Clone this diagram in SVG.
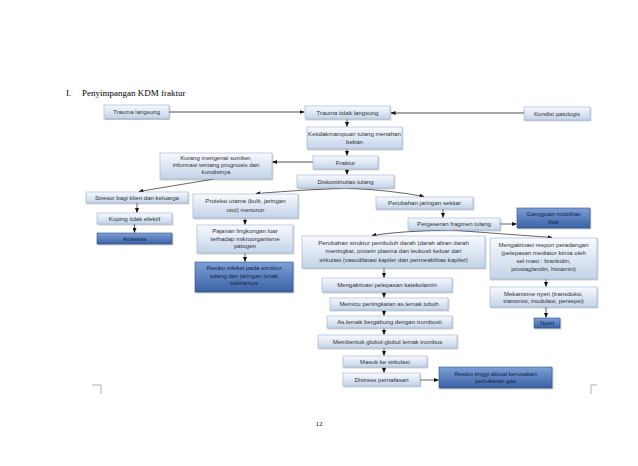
<svg xmlns="http://www.w3.org/2000/svg" width="638" height="466" viewBox="0 0 638 466">
<defs>
<linearGradient id="gl" x1="0" y1="0" x2="0" y2="1">
<stop offset="0" stop-color="#f8fafd"/>
<stop offset="1" stop-color="#c3d3e9"/>
</linearGradient>
<linearGradient id="gd" x1="0" y1="0" x2="0" y2="1">
<stop offset="0" stop-color="#7c9fd7"/>
<stop offset="1" stop-color="#3a62a6"/>
</linearGradient>
<filter id="sh" x="-10%" y="-20%" width="130%" height="160%">
<feDropShadow dx="0.8" dy="1" stdDeviation="0.6" flood-color="#000" flood-opacity="0.3"/>
</filter>
<marker id="ar" markerWidth="5" markerHeight="4" refX="4.5" refY="2" orient="auto" markerUnits="userSpaceOnUse">
<path d="M0 0 L5 2 L0 4 Z" fill="#111"/>
</marker>
<style>
.b{fill:url(#gl);stroke:#9db1cf;stroke-width:0.6;filter:url(#sh)}
.d{fill:url(#gd);stroke:#2f5088;stroke-width:0.6;filter:url(#sh)}
.t{font-family:"Liberation Sans",Arial,sans-serif;font-size:6.1px;fill:#333;text-anchor:middle}
.td{font-family:"Liberation Sans",Arial,sans-serif;font-size:6.1px;fill:#15233f;text-anchor:middle}
.c{fill:none;stroke:#222;stroke-width:0.7;marker-end:url(#ar)}
.g{fill:none;stroke:#8a8a8a;stroke-width:1.3;marker-end:url(#ar)}
.pg{font-family:"Liberation Serif","Times New Roman",serif;fill:#000}
</style>
</defs>
<rect width="638" height="466" fill="#fff"/>
<text class="pg" x="66" y="96" font-size="9">I.</text>
<text class="pg" x="82" y="96" font-size="9">Penyimpangan KDM fraktur</text>

<g id="connectors">
<path class="g" d="M169 112 H304"/>
<path class="g" d="M524 113 H391"/>
<path class="c" d="M347 119 V126.5"/>
<path class="c" d="M347 149 V155.5"/>
<path class="g" d="M313 162 H272.5"/>
<path class="c" d="M347 169 V174.5"/>
<path class="c" d="M214 179 L139 191.5"/>
<path class="c" d="M345 188 Q300 190 256 193.5"/>
<path class="c" d="M345 188 Q390 190 424 196.5"/>
<path class="c" d="M137 203 V212.5"/>
<path class="c" d="M134.5 224 V232.5"/>
<path class="c" d="M245 218 V224.5"/>
<path class="c" d="M245 253 V261.5"/>
<path class="c" d="M443 209 V217.5"/>
<path class="c" d="M500 224 H516.5"/>
<path class="c" d="M450 230 Q400 231 372 235.5"/>
<path class="c" d="M450 230 L552 237.5"/>
<path class="c" d="M384 268 V277.5"/>
<path class="c" d="M384 292 V297.5"/>
<path class="c" d="M384 310 V315.5"/>
<path class="c" d="M384 328 V334.5"/>
<path class="c" d="M384 348 V355.5"/>
<path class="c" d="M384 367 V372.5"/>
<path class="c" d="M420 380 H438.5"/>
<path class="c" d="M546 279 V286.5"/>
<path class="c" d="M546 307 V317.5"/>
</g>

<g id="n1"><rect class="b" x="104" y="105" width="65" height="13.5"/><text class="t" x="136.5" y="113.8">Trauma langsung</text></g>
<g id="n2"><rect class="b" x="305" y="106" width="85" height="13"/><text class="t" x="347.5" y="114.7">Trauma tidak langsung</text></g>
<g id="n3"><rect class="b" x="524" y="107" width="66" height="13"/><text class="t" x="557" y="115.7">Kondisi patologis</text></g>
<g id="n4"><rect class="b" x="307" y="127" width="95" height="22"/><text class="t" x="354.5" y="135.5">Ketidakmampuan tulang menahan</text><text class="t" x="354.5" y="144">beban</text></g>
<g id="n5"><rect class="b" x="160" y="153" width="112" height="26"/><text class="t" x="216" y="160">Kurang mengenal sumber,</text><text class="t" x="216" y="167">informasi tentang prognosis dan</text><text class="t" x="216" y="174">kondisinya</text></g>
<g id="n6"><rect class="b" x="313" y="156" width="65" height="13"/><text class="t" x="345.5" y="164.7">Fraktur</text></g>
<g id="n7"><rect class="b" x="297" y="175" width="97" height="13"/><text class="t" x="345.5" y="183.7">Diskontinuitas  tulang</text></g>
<g id="n8"><rect class="b" x="86" y="192" width="102" height="11"/><text class="t" x="137" y="199.6">Stresor bagi klien dan keluarga</text></g>
<g id="n9"><rect class="b" x="97" y="213" width="75" height="11"/><text class="t" x="134.5" y="220.6">Koping tidak  efektif</text></g>
<g id="n10"><rect class="d" x="97" y="233" width="75" height="11"/><text class="td" x="134.5" y="240.6">Ansietas</text></g>
<g id="n11"><rect class="b" x="193" y="194" width="105" height="24"/><text class="t" x="245.5" y="202.5">Proteksi utama (kulit,  jaringan</text><text class="t" x="245.5" y="211.5">otot) menurun</text></g>
<g id="n12"><rect class="b" x="197" y="225" width="96" height="28"/><text class="t" x="245" y="233">Pajanan lingkungan luar</text><text class="t" x="245" y="240.5">terhadap mikroorganisme</text><text class="t" x="245" y="248">patogen</text></g>
<g id="n13"><rect class="d" x="195" y="262" width="98" height="30"/><text class="td" x="244" y="270">Resiko infeksi pada struktur</text><text class="td" x="244" y="277.5">tulang dan jaringan lunak</text><text class="td" x="244" y="285">sekitarnya</text></g>
<g id="n14"><rect class="b" x="376" y="197" width="97" height="12"/><text class="t" x="424.5" y="205.2">Perubahan jaringan sekitar</text></g>
<g id="n15"><rect class="b" x="408" y="218" width="92" height="12"/><text class="t" x="454" y="226.2">Pergeseran fragmen tulang</text></g>
<g id="n16"><rect class="d" x="517" y="208" width="73" height="20"/><text class="td" x="553.5" y="216">Gangguan mobilitas</text><text class="td" x="553.5" y="223.5">fisik</text></g>
<g id="n17"><rect class="b" x="302" y="236" width="183" height="32"/><text class="t" x="393.5" y="244.5">Perubahan struktur pembuluh  darah (darah aliran darah</text><text class="t" x="393.5" y="253">meningkat, protein plasma dan leukosit keluar dari</text><text class="t" x="393.5" y="261.5">sirkulasi (vasodilatasi kapiler  dan permeabilitas  kapiler)</text></g>
<g id="n18"><rect class="b" x="490" y="238" width="107" height="41"/><text class="t" x="543.5" y="246.5">Mengaktivasi respon peradangan</text><text class="t" x="543.5" y="254.5">(pelepasan mediator  kimia oleh</text><text class="t" x="543.5" y="262.5">sel mast :  brankidin,</text><text class="t" x="543.5" y="270.5">prostaglandin, histamin)</text></g>
<g id="n19"><rect class="b" x="322" y="278" width="130" height="14"/><text class="t" x="387" y="287.2">Mengaktivasi pelepasan katekolamin</text></g>
<g id="n20"><rect class="b" x="330" y="298" width="118" height="12"/><text class="t" x="389" y="306.2">Memicu peningkatan as.lemak tubuh</text></g>
<g id="n21"><rect class="b" x="327" y="316" width="125" height="12"/><text class="t" x="389.5" y="324.2">As.lemak bergabung dengan trombosit</text></g>
<g id="n22"><rect class="b" x="318" y="335" width="139" height="13"/><text class="t" x="387.5" y="343.7">Membentuk globul-globul  lemak trombus</text></g>
<g id="n23"><rect class="b" x="343" y="356" width="84" height="11"/><text class="t" x="385" y="363.6">Masuk ke sirkulasi</text></g>
<g id="n24"><rect class="b" x="343" y="373" width="77" height="13"/><text class="t" x="381.5" y="381.7">Distress pernafasan</text></g>
<g id="n25"><rect class="d" x="439" y="367" width="113" height="21"/><text class="td" x="495.5" y="375.5">Resiko tinggi aktual kerusakan</text><text class="td" x="495.5" y="383">pertukaran gas</text></g>
<g id="n26"><rect class="b" x="490" y="287" width="107" height="20"/><text class="t" x="543.5" y="295.5">Mekanisme nyeri (transduksi,</text><text class="t" x="543.5" y="303">transmisi, modulasi, persepsi)</text></g>
<g id="n27"><rect class="d" x="534" y="318" width="26" height="10"/><text class="td" x="547" y="325.2">Nyeri</text></g>

<path d="M92 385 H101 V394" fill="none" stroke="#999" stroke-width="0.8"/>
<path d="M597 385 H591 V394" fill="none" stroke="#999" stroke-width="0.8"/>
<text class="pg" x="319" y="426" font-size="7" text-anchor="middle">12</text>
</svg>
